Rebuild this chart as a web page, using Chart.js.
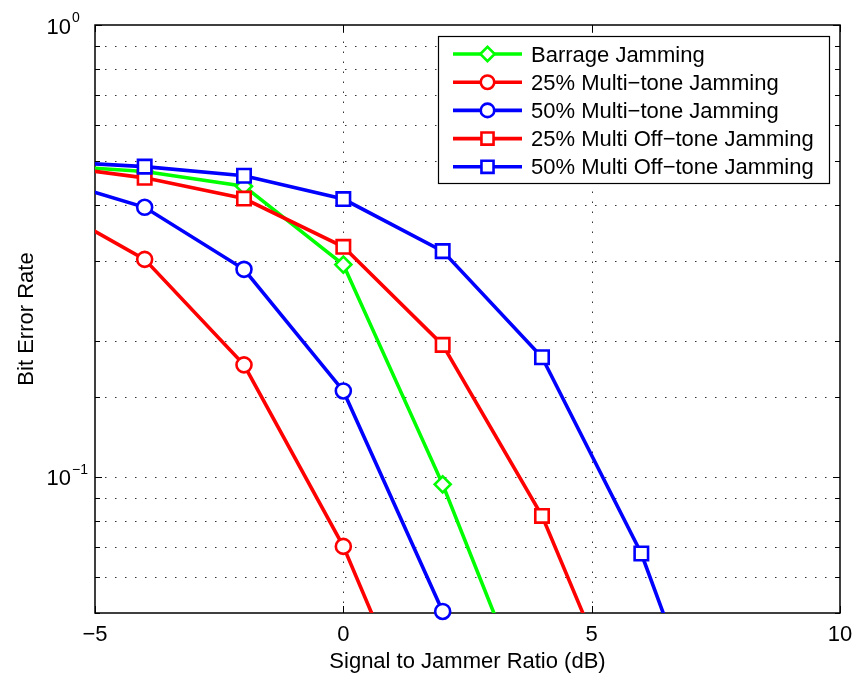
<!DOCTYPE html>
<html>
<head>
<meta charset="utf-8">
<script src="https://cdn.jsdelivr.net/npm/chart.js@4/dist/chart.umd.min.js"></script>
<style>
html,body{margin:0;padding:0;background:#fff;}
#wrap{width:854px;height:675px;}
</style>
</head>
<body>
<div id="wrap"><canvas id="c" width="854" height="675"></canvas></div>
<script>
// ---- data (points outside the axes are clipped) ----
const seriesNames = [
  'Barrage Jamming',
  '25% Multi\u2212tone Jamming',
  '50% Multi\u2212tone Jamming',
  '25% Multi Off\u2212tone Jamming',
  '50% Multi Off\u2212tone Jamming'
];
const xBarrage = [-6, -4, -2, 0, 2, 4];
const berBarrage = [0.49, 0.474, 0.440, 0.295, 0.0963, 0.027];
const x25Tone = [-6, -4, -2, 0, 2];
const ber25Tone = [0.403, 0.303, 0.177, 0.0702, 0.0213];
const x50Tone = [-6, -4, -2, 0, 2, 4];
const ber50Tone = [0.46, 0.395, 0.288, 0.155, 0.0504, 0.0134];
const x25Off = [-6, -4, -2, 0, 2, 4, 6];
const ber25Off = [0.49, 0.459, 0.413, 0.323, 0.196, 0.082, 0.0246];
const x50Off = [-6, -4, -2, 0, 2, 4, 6, 8];
const ber50Off = [0.50, 0.486, 0.464, 0.412, 0.316, 0.184, 0.0677, 0.0171];

const xTickLabels = ['\u22125', '0', '5', '10'];
const xTickValues = [-5, 0, 5, 10];
const yTickValues = [1, 0.1];
const yTickBase = ['10', '10'];
const yTickExp = ['0', '\u22121'];
const xTitle = 'Signal to Jammer Ratio (dB)';
const yTitle = 'Bit Error Rate';

// ---- styles ----
const FONT = "'Liberation Sans', Arial, Helvetica, sans-serif";
const colors = ['#00ff00', '#ff0000', '#0000ff', '#ff0000', '#0000ff'];
const styles = ['rectRot', 'circle', 'circle', 'rect', 'rect'];
const radii = [8, 7.5, 7.5, 9.5, 9.5];
const xs = [xBarrage, x25Tone, x50Tone, x25Off, x50Off];
const ys = [berBarrage, ber25Tone, ber50Tone, ber25Off, ber50Off];
const XMIN = -5, XMAX = 10, YMIN = 0.05, YMAX = 1;

const datasets = [];
xs.forEach((xa, i) => {
  const pts = xa.map((v, k) => ({x: v, y: ys[i][k]}));
  datasets.push({
    label: seriesNames[i],
    data: pts,
    borderColor: colors[i],
    borderWidth: 3.6,
    pointRadius: 0,
    pointHoverRadius: 0,
    fill: false,
    tension: 0,
    clip: 0,
    order: 20 - 2 * i
  });
  datasets.push({
    label: seriesNames[i] + ' markers',
    data: pts,
    showLine: false,
    borderColor: colors[i],
    backgroundColor: '#ffffff',
    pointStyle: styles[i],
    pointBorderWidth: 2.6,
    pointRadius: ctx => {
      const p = ctx.raw;
      if (!p) return 0;
      return (p.x >= XMIN && p.x <= XMAX && p.y >= YMIN * 0.99 && p.y <= YMAX) ? radii[i] : 0;
    },
    pointHoverRadius: 0,
    pointBackgroundColor: '#ffffff',
    pointBorderColor: colors[i],
    clip: false,
    order: 19 - 2 * i
  });
});

function drawMarker(ctx, style, r, x, y, color) {
  ctx.save();
  ctx.fillStyle = '#ffffff';
  ctx.strokeStyle = color;
  ctx.lineWidth = 2.6;
  if (Chart.helpers && Chart.helpers.drawPoint) {
    Chart.helpers.drawPoint(ctx, {pointStyle: style, radius: r, rotation: 0, borderWidth: 2.6}, x, y);
  } else {
    ctx.beginPath();
    if (style === 'circle') ctx.arc(x, y, r, 0, Math.PI * 2);
    else if (style === 'rect') { const s = r * Math.SQRT1_2; ctx.rect(x - s, y - s, 2 * s, 2 * s); }
    else { ctx.moveTo(x - r, y); ctx.lineTo(x, y - r); ctx.lineTo(x + r, y); ctx.lineTo(x, y + r); ctx.closePath(); }
    ctx.fill(); ctx.stroke();
  }
  ctx.restore();
}

const axesPlugin = {
  id: 'matlabAxes',
  beforeDraw(chart) {
    const ctx = chart.ctx;
    ctx.save();
    ctx.fillStyle = '#ffffff';
    ctx.fillRect(0, 0, chart.width, chart.height);
    ctx.restore();
  },
  beforeDatasetsDraw(chart) {
    const {ctx, chartArea: a, scales: {x, y}} = chart;
    // dotted grid
    ctx.save();
    ctx.strokeStyle = 'rgba(0,0,0,0.8)';
    ctx.lineWidth = 1;
    ctx.setLineDash([1.5, 8.5]);
    x.ticks.forEach(t => {
      const px = Math.round(x.getPixelForValue(t.value)) + 0.5;
      if (px <= a.left + 1 || px >= a.right - 1) return;
      ctx.beginPath(); ctx.moveTo(px, a.bottom); ctx.lineTo(px, a.top); ctx.stroke();
    });
    y.ticks.forEach(t => {
      const py = Math.round(y.getPixelForValue(t.value)) + 0.5;
      if (py <= a.top + 1 || py >= a.bottom - 1) return;
      ctx.beginPath(); ctx.moveTo(a.left, py); ctx.lineTo(a.right, py); ctx.stroke();
    });
    ctx.setLineDash([]);
    // tick marks (inside, all four sides)
    ctx.strokeStyle = '#000';
    ctx.lineWidth = 1;
    x.ticks.forEach(t => {
      const px = Math.round(x.getPixelForValue(t.value)) + 0.5;
      ctx.beginPath();
      ctx.moveTo(px, a.bottom); ctx.lineTo(px, a.bottom - 7);
      ctx.moveTo(px, a.top); ctx.lineTo(px, a.top + 7);
      ctx.stroke();
    });
    y.ticks.forEach(t => {
      const py = Math.round(y.getPixelForValue(t.value)) + 0.5;
      const len = (t.value === 1 || Math.abs(t.value - 0.1) < 1e-9) ? 7 : 5;
      ctx.beginPath();
      ctx.moveTo(a.left, py); ctx.lineTo(a.left + len, py);
      ctx.moveTo(a.right, py); ctx.lineTo(a.right - len, py);
      ctx.stroke();
    });
    // frame
    ctx.lineWidth = 1.5;
    ctx.strokeStyle = '#000';
    ctx.strokeRect(a.left, a.top, a.right - a.left, a.bottom - a.top);
    // tick labels
    ctx.fillStyle = '#000';
    ctx.font = '22px ' + FONT;
    ctx.textAlign = 'center';
    ctx.textBaseline = 'alphabetic';
    xTickValues.forEach((v, i) => {
      ctx.fillText(xTickLabels[i], x.getPixelForValue(v), a.bottom + 28);
    });
    yTickValues.forEach((v, i) => {
      const py = y.getPixelForValue(v);
      ctx.font = '22px ' + FONT;
      ctx.textAlign = 'right';
      ctx.fillText(yTickBase[i], 71, py + 8.5);
      ctx.font = '14px ' + FONT;
      ctx.textAlign = 'left';
      ctx.fillText(yTickExp[i], 72, py - 3);
    });
    // axis titles
    ctx.font = '22px ' + FONT;
    ctx.textAlign = 'center';
    ctx.fillText(xTitle, (a.left + a.right) / 2, 668);
    ctx.save();
    ctx.translate(33, (a.top + a.bottom) / 2);
    ctx.rotate(-Math.PI / 2);
    ctx.fillText(yTitle, 0, 0);
    ctx.restore();
    ctx.restore();
  },
  afterDatasetsDraw(chart) {
    const ctx = chart.ctx;
    // legend box
    const bx = 438, by = 36, bw = 391, bh = 147;
    ctx.save();
    ctx.fillStyle = '#fff';
    ctx.fillRect(bx, by, bw, bh);
    ctx.strokeStyle = '#000';
    ctx.lineWidth = 1.2;
    ctx.strokeRect(bx + 0.5, by + 0.5, bw, bh);
    const rowY0 = 54, rowDY = 28.2;
    seriesNames.forEach((name, i) => {
      const cy = rowY0 + i * rowDY;
      ctx.strokeStyle = colors[i];
      ctx.lineWidth = 3.6;
      ctx.beginPath(); ctx.moveTo(453, cy); ctx.lineTo(522, cy); ctx.stroke();
      drawMarker(ctx, styles[i], radii[i] * 0.9, 487.5, cy, colors[i]);
      ctx.fillStyle = '#000';
      ctx.font = '22px ' + FONT;
      ctx.textAlign = 'left';
      ctx.textBaseline = 'alphabetic';
      ctx.fillText(name, 531, cy + 7.5);
    });
    ctx.restore();
  }
};

new Chart(document.getElementById('c'), {
  type: 'line',
  data: {datasets},
  options: {
    responsive: false,
    animation: false,
    events: [],
    layout: {padding: {left: 0, top: 25, right: 14, bottom: 0}},
    plugins: {legend: {display: false}, tooltip: {enabled: false}, title: {display: false}},
    scales: {
      x: {
        type: 'linear', min: XMIN, max: XMAX,
        ticks: {display: false, stepSize: 5},
        grid: {display: false},
        border: {display: false},
        afterFit: s => { s.height = 62; }
      },
      y: {
        type: 'logarithmic', min: YMIN, max: YMAX,
        ticks: {display: false},
        grid: {display: false},
        border: {display: false},
        afterFit: s => { s.width = 95; }
      }
    }
  },
  plugins: [axesPlugin]
});
</script>
</body>
</html>
